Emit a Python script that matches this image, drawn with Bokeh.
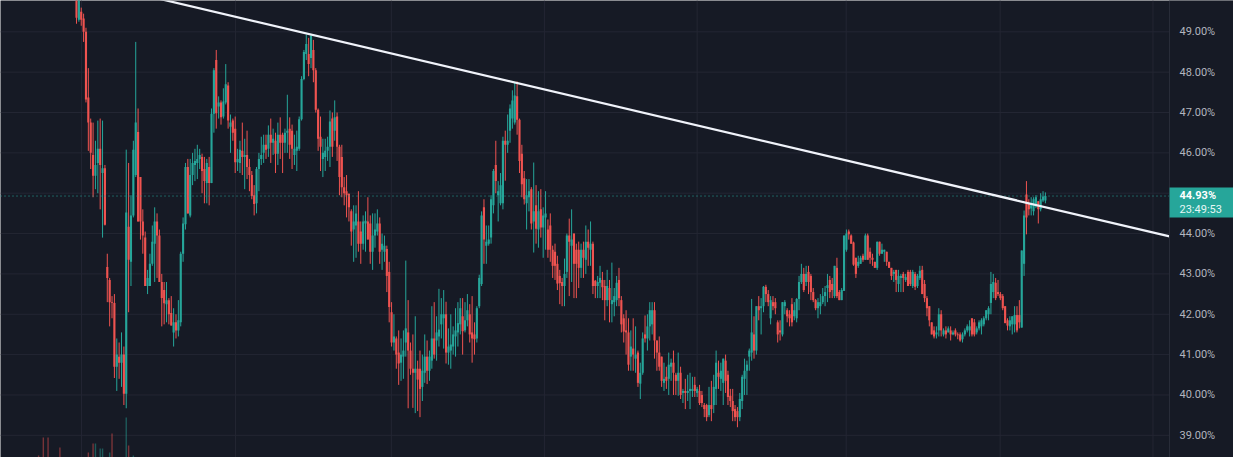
import numpy as np
from bokeh.plotting import figure
from bokeh.models import ColumnDataSource, Range1d, Span
from bokeh.core.properties import value
from bokeh.embed import file_html
from bokeh.resources import INLINE

# ---------------- data (percent values) ----------------
open_ = [
    # segment A
    49.9, 49.3, 49.5, 49.33, 49.0, 47.37, 46.75, 45.95, 45.43, 45.75, 46.1, 45.5, 45.62, 43.17, 42.85, 42.3, 42.28, 40.7, 40.95, 40.8,
    41.0, 40.03, 44.17, 43.3, 44.45, 45.45, 46.52, 45.4, 44.3, 43.9, 42.7, 42.7, 43.25, 43.75, 44.3, 43.95, 42.8, 42.6, 42.25, 42.35,
    42.03, 41.55, 41.8, 41.6, 41.8, 43.5, 44.23, 45.65, 44.45, 45.45, 45.7, 45.75, 45.85, 45.9, 45.6, 45.25, 45.65, 45.25, 46.97, 48.3,
    # segment B
    47.15, 47.25, 46.9, 47.25, 47.67, 46.65, 46.8, 46.6, 45.77, 45.75, 46.05, 45.9, 45.95, 45.65, 45.45, 44.95, 44.75, 45.6, 45.85, 46.0,
    46.2, 46.1, 46.45, 46.25, 46.3, 45.98, 46.45, 46.45, 46.25, 46.5, 46.6, 46.55, 45.95, 46.05, 46.1, 46.83, 47.83, 48.45, 48.45, 48.35,
    48.55, 48.05, 47.07, 46.4, 45.85, 45.9, 46.05, 46.15, 46.85, 46.55, 46.9, 46.15, 45.9, 45.15, 45.05, 44.98, 44.55, 44.1, 44.2,
    # segment C
    44.3, 44.05, 43.75, 44.25, 44.3, 44.25, 43.55, 43.95, 44.05, 44.25, 43.6, 43.55, 43.62, 43.05, 42.05, 41.3, 41.4, 41.05, 40.8, 40.95,
    41.3, 41.55, 41.1, 40.65, 40.55, 40.65, 40.65, 40.2, 40.55, 40.95, 40.6, 40.85, 41.4, 41.35, 41.45, 41.75, 41.9, 42.0, 41.05, 41.1,
    41.2, 41.45, 41.55, 41.75, 41.95, 41.6, 41.85, 42.0, 41.55, 41.5, 41.4, 42.2, 42.75, 44.65, 43.7, 43.75, 43.9, 44.7, 45.7,
    # segment D
    44.95, 44.75, 44.75, 46.3, 46.2, 46.55, 46.85, 46.75, 47.4, 46.82, 45.98, 45.37, 44.75, 44.9, 45.1, 44.3, 44.7, 44.1, 44.6, 44.15,
    44.4, 44.1, 44.2, 43.6, 43.55, 43.25, 42.95, 42.8, 42.7, 43.05, 43.95, 43.7, 44.0, 43.6, 43.6, 43.15, 43.6, 43.35, 43.8, 43.6,
    43.75, 42.83, 42.7, 42.78, 42.85, 42.7, 42.35, 42.65, 42.25, 42.3, 42.35, 42.85, 42.35, 41.9, 41.6, 41.55, 40.95,
    # segment E
    41.15, 40.9, 41.05, 40.28, 40.55, 41.5, 41.4, 41.7, 41.75, 42.1, 41.35, 41.05, 40.95, 40.3, 40.45, 40.4, 40.7, 40.8, 40.5, 40.35,
    40.55, 40.05, 40.1, 40.05, 40.1, 40.1, 40.25, 40.05, 40.1, 40.0, 39.75, 39.75, 39.5, 39.75, 39.75, 40.15, 40.55, 40.4, 40.3, 40.85,
    40.5, 39.98, 39.85, 39.65, 39.6, 39.45, 39.85, 40.4, 40.6, 40.95, 41.05, 41.5, 41.1, 42.2, 42.15, 42.2, 42.68, 42.5, 41.9,
    # segment F
    42.3, 42.3, 41.8, 41.6, 41.5, 42.2, 42.1, 42.0, 42.25, 41.95, 41.9, 42.38, 42.8, 43.0, 42.8, 43.05, 42.95, 42.55, 42.35, 42.15,
    42.2, 42.3, 42.45, 42.65, 42.85, 42.75, 42.45, 43.15, 42.55, 42.35, 42.58, 43.6, 44.05, 43.95, 43.78, 43.4, 43.2, 43.25, 43.45, 43.35,
    43.95, 43.55, 43.4, 43.3, 43.15, 43.8, 43.5, 43.55, 43.55, 43.3, 43.15, 43.0, 43.1, 42.75, 42.9, 43.0, 42.85, 43.05, 43.05, 42.7,
    # segment G
    43.0, 42.7, 42.9, 43.1, 42.75, 42.4, 42.2, 41.8, 41.6, 41.5, 41.6, 42.0, 41.5, 41.6, 41.55, 41.6, 41.5, 41.6, 41.5, 41.5,
    41.38, 41.5, 41.6, 41.6, 41.9, 41.8, 41.55, 41.65, 41.7, 41.75, 41.9, 42.0, 42.28, 42.55, 42.78, 42.55, 42.5, 42.45, 42.2, 41.85,
    41.7, 41.75, 41.75, 41.98, 41.98, 41.67, 43.25, 44.97, 44.75, 44.62, 44.55, 44.67, 44.8, 44.6, 44.82, 44.82,
]
high = [
    50.0, 50.1, 49.6, 49.45, 49.1, 48.1, 46.85, 46.75, 46.3, 46.8, 46.85, 46.8, 45.7, 43.5, 42.9, 42.45, 42.5, 41.4, 41.3, 41.55,
    41.2, 46.08, 45.75, 44.95, 46.3, 48.75, 47.1, 45.4, 44.6, 44.05, 43.1, 43.5, 44.2, 44.65, 44.5, 44.1, 43.0, 42.8, 42.8, 42.4,
    42.45, 42.15, 42.0, 42.35, 43.55, 44.4, 45.75, 45.85, 45.85, 46.0, 46.1, 46.2, 46.1, 45.98, 45.9, 45.85, 45.9, 47.1, 48.1, 48.55,
    47.4, 47.3, 47.6, 48.2, 47.75, 46.95, 46.85, 46.9, 46.1, 46.3, 46.75, 46.35, 46.55, 45.85, 45.55, 45.2, 45.65, 46.0, 46.4, 46.45,
    46.45, 46.68, 46.85, 46.6, 46.5, 46.75, 46.88, 46.5, 46.6, 47.44, 46.88, 46.7, 46.45, 46.55, 46.9, 47.9, 48.55, 48.93, 48.85, 48.95,
    48.8, 48.1, 47.1, 46.9, 46.35, 46.35, 46.4, 47.05, 47.0, 47.3, 47.0, 46.2, 46.2, 45.4, 45.45, 45.0, 44.6, 44.7, 44.7,
    45.05, 44.3, 44.45, 44.55, 44.9, 44.45, 44.5, 44.5, 44.6, 44.4, 44.0, 43.95, 43.7, 43.3, 42.3, 42.0, 41.45, 41.6, 41.4, 41.6,
    43.33, 42.35, 41.3, 41.5, 41.95, 40.85, 41.1, 41.0, 41.5, 41.35, 41.1, 42.2, 42.3, 41.95, 42.63, 42.4, 42.6, 42.31, 41.65, 42.0,
    41.7, 42.15, 42.3, 42.4, 42.4, 42.3, 42.5, 42.25, 42.45, 41.8, 42.2, 42.98, 44.55, 44.85, 44.2, 44.2, 44.95, 45.6, 46.3,
    45.3, 45.5, 46.4, 46.55, 46.95, 47.2, 47.55, 47.75, 47.77, 46.85, 46.2, 45.55, 45.35, 45.35, 45.15, 45.76, 45.2, 45.05, 45.1, 44.65,
    45.05, 44.35, 44.5, 43.7, 43.75, 43.45, 43.1, 42.9, 43.38, 44.0, 44.37, 44.6, 44.0, 43.75, 43.8, 43.75, 43.8, 44.2, 44.1, 44.3,
    43.8, 42.85, 42.95, 43.2, 43.05, 42.85, 43.1, 42.85, 43.28, 42.65, 42.95, 43.15, 42.45, 42.0, 42.1, 41.9, 41.6,
    41.9, 41.7, 41.1, 40.8, 41.55, 41.97, 42.0, 42.3, 42.3, 42.3, 41.35, 41.45, 40.95, 40.8, 40.7, 41.05, 40.9, 41.1, 40.55, 41.05,
    40.7, 40.15, 40.4, 40.5, 40.55, 40.45, 40.45, 40.2, 40.25, 40.1, 39.8, 39.78, 40.2, 40.35, 40.5, 41.1, 40.85, 40.8, 40.9, 41.0,
    40.6, 40.15, 40.15, 39.75, 39.7, 40.05, 40.5, 40.9, 40.85, 41.15, 42.38, 41.95, 42.2, 42.45, 42.4, 42.7, 42.73, 42.6, 42.45,
    42.45, 42.4, 41.85, 41.85, 42.3, 42.35, 42.15, 42.1, 42.4, 42.3, 42.4, 42.95, 43.25, 43.15, 43.2, 43.2, 43.0, 42.65, 42.38, 42.4,
    42.5, 42.65, 42.7, 43.0, 42.95, 42.9, 43.2, 43.4, 42.6, 42.65, 43.95, 44.1, 44.1, 43.98, 43.8, 43.4, 43.45, 43.45, 43.5, 44.0,
    44.0, 43.65, 43.5, 43.3, 43.8, 43.8, 43.75, 43.6, 43.55, 43.3, 43.15, 43.1, 43.1, 43.1, 43.0, 43.05, 43.0, 43.1, 43.1, 43.1,
    43.05, 43.0, 43.2, 43.2, 42.85, 42.45, 42.2, 41.8, 41.7, 41.7, 42.15, 42.1, 41.65, 41.7, 41.7, 41.7, 41.6, 41.65, 41.55, 41.55,
    41.55, 41.65, 41.75, 41.85, 41.9, 41.88, 41.7, 41.85, 41.9, 41.95, 42.1, 42.2, 43.05, 43.0, 42.9, 42.85, 42.55, 42.5, 42.2, 41.9,
    41.95, 41.95, 42.2, 42.2, 42.35, 43.58, 44.57, 45.3, 44.85, 44.9, 44.9, 44.95, 44.8, 45.0, 45.05, 45.02,
]
low = [
    49.2, 49.25, 49.15, 48.75, 47.25, 46.05, 45.6, 44.9, 45.1, 45.0, 44.6, 43.9, 44.2, 42.3, 41.7, 41.9, 40.42, 40.1, 40.4, 40.2,
    39.75, 39.67, 42.05, 42.7, 44.4, 45.4, 44.3, 43.85, 43.5, 42.7, 42.5, 42.7, 43.2, 42.8, 42.9, 42.8, 41.7, 41.75, 41.8, 41.75,
    41.72, 41.2, 41.4, 41.45, 41.7, 43.3, 44.1, 44.5, 44.4, 45.2, 45.3, 45.35, 45.6, 45.0, 44.75, 44.75, 44.7, 45.25, 46.5, 46.6,
    46.85, 46.7, 46.85, 47.2, 46.6, 46.0, 46.3, 45.5, 45.55, 45.5, 45.45, 45.1, 45.35, 45.05, 44.85, 44.45, 44.5, 45.05, 45.7, 45.75,
    45.85, 45.9, 45.75, 45.95, 45.5, 45.7, 45.85, 45.5, 46.0, 46.0, 45.85, 45.6, 45.7, 45.55, 46.05, 46.8, 47.8, 48.3, 47.9, 48.1,
    47.75, 47.0, 46.05, 45.55, 45.4, 45.55, 45.8, 45.65, 45.9, 46.3, 45.8, 44.95, 44.9, 44.7, 44.4, 44.3, 43.7, 43.3, 43.4,
    43.55, 43.25, 43.6, 43.55, 43.85, 43.25, 43.1, 43.65, 43.95, 43.25, 43.1, 43.3, 42.55, 41.8, 41.2, 41.1, 40.65, 40.25, 40.35, 40.4,
    40.95, 39.67, 40.5, 39.68, 39.55, 39.6, 39.45, 39.85, 40.3, 40.27, 40.35, 40.65, 40.9, 40.85, 41.2, 41.4, 41.15, 40.78, 40.75, 40.65,
    41.0, 40.95, 41.2, 41.5, 41.0, 41.55, 41.7, 41.3, 40.8, 41.0, 41.3, 42.15, 42.7, 43.25, 43.25, 43.7, 43.75, 44.5, 45.0,
    44.3, 44.7, 44.6, 45.31, 46.0, 46.25, 46.6, 46.7, 46.45, 45.5, 44.9, 44.72, 44.1, 44.55, 44.1, 43.53, 43.75, 43.65, 43.9, 43.4,
    43.6, 43.4, 43.3, 42.9, 42.85, 42.6, 42.25, 42.2, 42.2, 42.9, 42.45, 42.8, 42.4, 42.4, 42.65, 42.9, 42.9, 43.0, 43.2, 43.2,
    42.5, 42.4, 42.4, 42.4, 42.35, 41.85, 42.2, 41.8, 41.8, 41.95, 42.2, 42.2, 41.55, 41.3, 41.0, 40.6, 40.6,
    40.6, 40.55, 40.2, 39.9, 40.5, 41.3, 41.1, 41.35, 41.5, 40.9, 40.6, 40.6, 40.2, 40.1, 40.15, 40.0, 40.35, 40.0, 40.0, 39.98,
    39.9, 39.8, 39.65, 39.85, 39.65, 39.95, 39.95, 39.95, 39.75, 39.7, 39.45, 39.35, 39.45, 39.35, 39.55, 39.75, 40.15, 40.1, 39.75, 40.05,
    39.75, 39.7, 39.35, 39.35, 39.2, 39.35, 39.65, 40.0, 40.0, 40.6, 40.85, 40.9, 41.0, 41.85, 41.5, 42.05, 42.3, 42.2, 41.75,
    42.1, 42.0, 41.3, 41.35, 41.45, 42.0, 41.8, 41.7, 41.7, 41.85, 41.8, 42.1, 42.75, 42.55, 42.7, 42.5, 42.35, 42.3, 42.1, 41.9,
    42.0, 42.25, 42.2, 42.3, 42.4, 42.4, 42.4, 42.4, 42.35, 42.35, 42.58, 43.55, 43.85, 43.75, 43.2, 42.9, 43.15, 43.25, 43.3, 43.35,
    43.35, 43.25, 43.2, 43.15, 43.1, 43.45, 43.5, 43.3, 43.2, 43.15, 42.85, 42.8, 42.55, 42.55, 42.55, 42.55, 42.8, 42.7, 42.7, 42.65,
    42.6, 42.65, 42.85, 42.5, 42.3, 41.95, 41.7, 41.5, 41.4, 41.4, 41.45, 41.45, 41.45, 41.4, 41.55, 41.35, 41.48, 41.45, 41.38, 41.32,
    41.3, 41.45, 41.55, 41.45, 41.45, 41.45, 41.5, 41.6, 41.5, 41.7, 41.85, 41.85, 42.0, 42.4, 42.35, 42.45, 42.35, 42.1, 41.78, 41.6,
    41.6, 41.5, 41.55, 41.55, 41.65, 41.67, 42.95, 43.98, 44.45, 44.45, 44.45, 44.63, 44.25, 44.55, 44.78, 44.75,
]
close = [
    49.35, 49.9, 49.3, 49.0, 47.32, 46.75, 46.0, 45.43, 45.7, 46.1, 45.7, 45.62, 44.22, 42.9, 42.3, 42.28, 40.7, 41.0, 40.8, 41.0,
    40.03, 44.52, 43.35, 44.45, 46.08, 46.75, 44.3, 44.3, 43.95, 42.7, 42.9, 43.25, 43.8, 44.3, 43.95, 42.8, 42.4, 42.27, 42.35, 42.0,
    41.72, 41.8, 41.6, 41.85, 43.5, 44.25, 45.65, 44.5, 45.45, 45.75, 45.8, 45.85, 45.95, 45.55, 45.3, 45.75, 45.25, 46.97, 48.05, 46.98,
    47.25, 46.88, 47.27, 47.7, 46.8, 46.75, 46.5, 45.77, 45.85, 46.08, 45.9, 45.95, 45.65, 45.45, 44.93, 44.73, 45.6, 45.85, 45.95, 46.2,
    46.08, 46.45, 46.25, 46.35, 45.98, 46.45, 46.25, 46.25, 46.5, 46.55, 46.2, 46.1, 46.1, 46.15, 46.83, 47.83, 48.5, 48.7, 48.2, 48.9,
    48.05, 47.07, 46.35, 46.15, 46.0, 46.05, 46.15, 46.78, 46.15, 46.88, 46.15, 45.4, 45.15, 45.0, 44.95, 44.65, 44.05, 44.3, 44.5,
    43.75, 43.75, 44.3, 44.32, 43.85, 43.55, 43.95, 44.1, 44.25, 43.55, 43.75, 43.7, 42.95, 42.18, 41.3, 41.45, 41.0, 40.78, 41.0, 41.1,
    41.65, 41.1, 40.65, 40.55, 40.65, 40.38, 40.15, 40.6, 40.95, 40.6, 40.95, 41.4, 41.0, 41.55, 41.62, 42.0, 42.0, 41.05, 41.2, 41.25,
    41.5, 41.6, 41.78, 42.15, 41.58, 41.85, 42.1, 41.5, 41.4, 41.38, 42.15, 42.9, 44.45, 43.85, 43.8, 43.85, 44.85, 45.55, 45.3,
    45.05, 45.2, 46.3, 46.2, 46.3, 47.1, 47.3, 47.42, 46.82, 45.8, 45.22, 44.85, 44.95, 45.05, 44.25, 44.55, 44.12, 44.55, 44.15, 44.45,
    44.5, 43.6, 43.6, 43.2, 43.2, 42.76, 42.77, 42.7, 43.0, 43.95, 43.8, 43.85, 43.25, 43.25, 43.15, 43.6, 43.4, 43.8, 43.65, 43.75,
    42.7, 42.7, 42.8, 42.9, 42.67, 42.35, 42.7, 42.35, 42.35, 42.45, 42.78, 42.4, 41.75, 41.57, 41.55, 40.75, 41.2,
    41.0, 41.0, 40.3, 40.55, 41.4, 41.4, 41.7, 42.1, 42.1, 41.35, 41.05, 40.7, 40.35, 40.4, 40.35, 40.75, 40.8, 40.55, 40.35, 40.55,
    40.0, 40.1, 40.05, 40.1, 40.15, 40.15, 40.1, 40.15, 39.8, 39.8, 39.65, 39.45, 39.75, 39.65, 40.2, 40.8, 40.45, 40.6, 40.9, 40.35,
    39.95, 39.85, 39.6, 39.45, 39.45, 39.9, 40.45, 40.6, 40.75, 41.1, 41.55, 41.1, 42.2, 42.1, 42.2, 42.68, 42.5, 42.3, 42.35,
    42.2, 42.15, 41.5, 41.55, 42.3, 42.3, 41.95, 41.9, 41.8, 42.1, 42.38, 42.8, 43.0, 42.6, 43.0, 42.8, 42.55, 42.35, 42.15, 42.3,
    42.3, 42.45, 42.55, 42.72, 42.55, 42.6, 43.2, 42.45, 42.35, 42.6, 43.95, 44.0, 43.98, 43.75, 43.23, 43.0, 43.3, 43.4, 43.35, 43.95,
    43.35, 43.4, 43.35, 43.15, 43.8, 43.5, 43.6, 43.6, 43.3, 43.15, 42.95, 43.05, 42.85, 42.95, 42.95, 42.9, 42.92, 42.7, 42.75, 43.05,
    42.68, 42.95, 43.08, 42.5, 42.4, 42.15, 41.85, 41.5, 41.45, 41.55, 42.0, 41.6, 41.6, 41.5, 41.65, 41.5, 41.55, 41.5, 41.48, 41.35,
    41.5, 41.6, 41.7, 41.7, 41.5, 41.5, 41.65, 41.8, 41.85, 41.9, 42.1, 42.15, 42.75, 42.8, 42.4, 42.5, 42.4, 42.15, 41.78, 41.72,
    41.85, 41.95, 41.98, 41.6, 41.8, 43.58, 44.45, 44.4, 44.6, 44.75, 44.85, 44.9, 44.6, 44.85, 44.92, 44.93,
]

# volume bars visible at the bottom-left (bar index, volume, rising?)
vol_idx = [-16, -14, -12, -7, 5, 7, 8, 10, 11, 14, 15, 21, 22, 24]
vol_val = [15, 33, 33, 23, 18, 27, 27, 22, 22, 18, 37, 53, 25, 15]
vol_up = [False, False, False, False, False, False, True, True, True, True, False, True, False, True]

# descending trend line (bar index, percent)
trend_x = [30, 461.4]
trend_y = [49.886, 43.93]

# time grid (bar index of session boundaries) and price ticks
x_grid_ticks = [2.1, 67.1, 132.9, 197.5, 262.0, 324.9, 389.9, 454.4]
y_ticks = [39, 40, 41, 42, 43, 44, 45, 46, 47, 48, 49]
last_price = close[-1]
last_time = "23:49:53"

# ---------------- layout / styling ----------------
X_LEFT, SCALE_LEFT, X_RIGHT = -32.08, 461.4, 488.4      # view edges and price-scale border (bar units)
Y_LO, Y_HI = 38.45, 49.776
BG = "#161a25"
GRID = "#232633"
UP = "#26a69a"
DOWN = "#ef5350"
TXT = "#b2b5be"

o = np.array(open_); h = np.array(high); l = np.array(low); c = np.array(close)
x = np.arange(len(c))
colors = np.where(c >= o, UP, DOWN)
src = ColumnDataSource(dict(x=x, high=h, low=l, top=np.maximum(o, c), bottom=np.minimum(o, c), color=colors))

p = figure(width=1233, height=457,
           x_range=Range1d(X_LEFT, X_RIGHT), y_range=Range1d(Y_LO, Y_HI),
           x_axis_location=None, y_axis_location=None,
           output_backend="svg", toolbar_location=None,
           background_fill_color=BG, border_fill_color=BG)
p.min_border = 0
p.outline_line_color = None
p.grid.visible = False

# grid
for t in x_grid_ticks:
    p.add_layout(Span(location=t, dimension="height", line_color=GRID, line_width=1, level="underlay"))
p.segment(x0=[X_LEFT] * len(y_ticks), x1=[SCALE_LEFT] * len(y_ticks), y0=y_ticks, y1=y_ticks,
          line_color=GRID, line_width=1)

# volume (own scale at the bottom)
p.extra_y_ranges = {"vol": Range1d(13, 470)}
p.vbar(x=vol_idx, top=vol_val, bottom=0, width=0.6, y_range_name="vol",
       fill_color=[UP if u else DOWN for u in vol_up], fill_alpha=0.45, line_color=None)

# candles
p.segment(x0="x", y0="low", x1="x", y1="high", line_color="color", line_width=1, source=src)
p.vbar(x="x", width=0.9, top="top", bottom="bottom", fill_color="color", line_color=None, source=src)

# last price dotted line
p.segment(x0=[X_LEFT], x1=[SCALE_LEFT], y0=[last_price], y1=[last_price],
          line_color=UP, line_dash="1 3", line_width=1)

# trend line
p.line(trend_x, trend_y, line_color="#f0f3fa", line_width=2.2)

# price scale (right)
p.quad(left=[SCALE_LEFT], right=[X_RIGHT], bottom=[Y_LO], top=[Y_HI], fill_color=BG, line_color=None)
p.segment(x0=[SCALE_LEFT], x1=[SCALE_LEFT], y0=[Y_LO], y1=[Y_HI], line_color="#2a2e39", line_width=1)
label_x = SCALE_LEFT + 4.2
p.text(x=[label_x] * len(y_ticks), y=y_ticks, text=[f"{v:.2f}%" for v in y_ticks],
       text_color=TXT, text_font=value("Roboto"), text_font_size=value("11px"),
       text_baseline="middle", text_align="left")

# last price tag
p.quad(left=[SCALE_LEFT], right=[X_RIGHT], top=[last_price + 0.21], bottom=[last_price - 0.53],
       fill_color=UP, line_color=None)
p.text(x=[label_x], y=[last_price + 0.013], text=[f"{last_price:.2f}%"],
       text_color="white", text_font=value("Roboto"), text_font_size=value("11px"),
       text_font_style="bold", text_baseline="middle", text_align="left")
p.text(x=[label_x], y=[last_price - 0.334], text=[last_time],
       text_color="#e6f7f5", text_font=value("Roboto"), text_font_size=value("11px"),
       text_baseline="middle", text_align="left")

open("out.html", "w").write(file_html(p, INLINE))
